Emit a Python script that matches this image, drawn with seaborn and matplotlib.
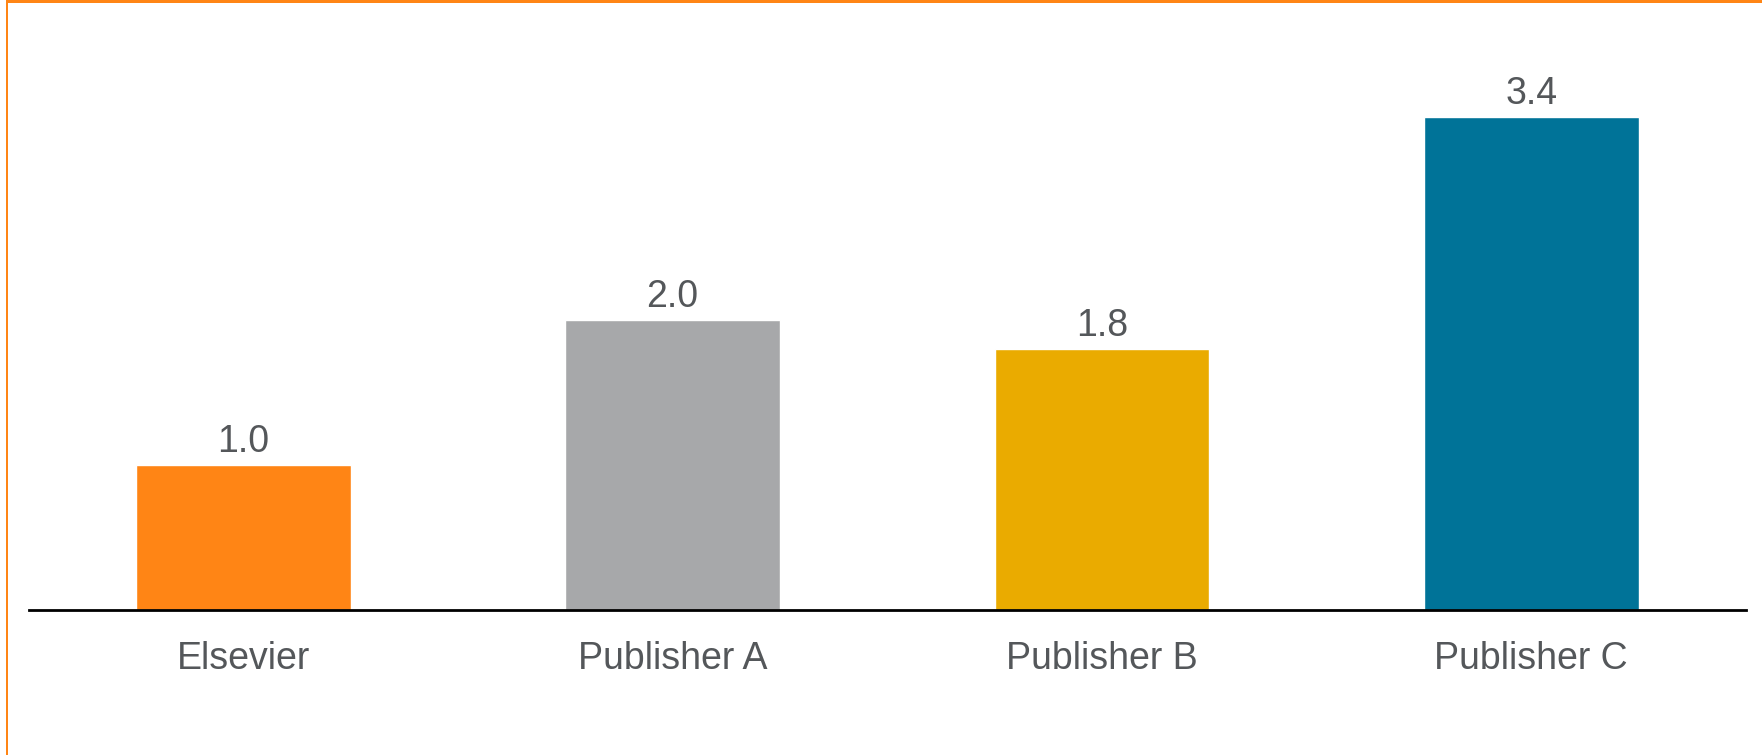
import matplotlib
matplotlib.use("Agg")
import matplotlib.pyplot as plt
import seaborn as sns
import pandas as pd
from matplotlib.patches import Rectangle

categories = ["Elsevier", "Publisher A", "Publisher B", "Publisher C"]
values = [1.0, 2.0, 1.8, 3.4]
value_labels = ["1.0", "2.0", "1.8", "3.4"]
colors = ["#FF8515", "#A7A8AA", "#EAAB00", "#007398"]

sns.set_theme(style="white")
plt.rcParams["font.family"] = ["Liberation Sans", "DejaVu Sans"]

W, H = 1762, 755
fig = plt.figure(figsize=(W / 100, H / 100), dpi=100)
fig.patch.set_facecolor("white")

base_y = 610  # pixel from top
top_y = 20
ax = fig.add_axes([28.5 / W, (H - base_y) / H, (1746 - 28.5) / W, (base_y - top_y) / H])

df = pd.DataFrame({"cat": categories, "val": values})
sns.barplot(data=df, x="cat", y="val", hue="cat", palette=colors, width=0.5,
            legend=False, ax=ax, saturation=1)

ax.set_xlim(-0.5, 3.5)
ax.set_ylim(0, (base_y - top_y) / 145.0)
for s in ["top", "right", "left"]:
    ax.spines[s].set_visible(False)
ax.spines["bottom"].set_color("black")
ax.spines["bottom"].set_linewidth(2)
ax.set_yticks([])
ax.set_xlabel("")
ax.set_ylabel("")
ax.tick_params(axis="x", length=0, pad=22, labelsize=27, labelcolor="#54575A")

for i, (v, lab) in enumerate(zip(values, value_labels)):
    ax.annotate(lab, (i, v), xytext=(0, 5), textcoords="offset pixels",
                ha="center", va="bottom", fontsize=27, color="#54575A")

# orange frame (top and left)
fig.add_artist(Rectangle((6 / W, 1 - 3 / H), 1 - 6 / W, 3 / H, transform=fig.transFigure,
                         facecolor="#FF8515", edgecolor="none"))
fig.add_artist(Rectangle((6 / W, 0), 2 / W, 1, transform=fig.transFigure,
                         facecolor="#FF8515", edgecolor="none"))

fig.savefig("out.png", dpi=100, facecolor="white")
